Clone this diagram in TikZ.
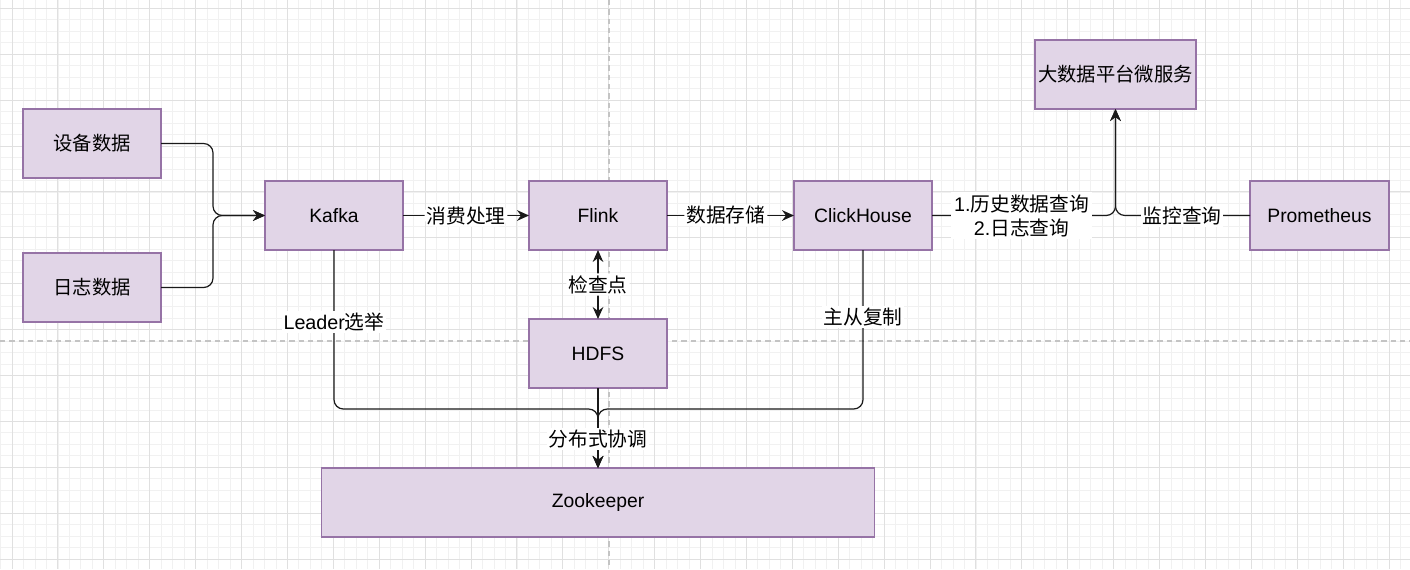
\documentclass[tikz,border=0pt]{standalone}
\usepackage{fontspec}
\setmainfont{Liberation Sans}
\newfontfamily\cjk{Noto Sans CJK SC}
\usetikzlibrary{arrows.meta}
\definecolor{boxfill}{HTML}{E1D5E7}
\definecolor{boxline}{HTML}{9673A6}
\definecolor{gminor}{HTML}{F1F1F1}
\definecolor{gmajor}{HTML}{E0E0E0}
\definecolor{gdash}{HTML}{C4C4C4}
\newcommand{\zh}[1]{{\cjk #1}}
\tikzset{
  box/.style={draw=boxline, fill=boxfill, line width=0.8pt, inner sep=0pt, outer sep=0pt,
    minimum width=103.5pt, minimum height=51.75pt, font=\fontsize{14.5}{17}\selectfont, text=black},
  tip/.tip={Stealth[length=9pt,width=8pt,inset=3pt]},
  conn/.style={line width=0.9pt, draw=black!90, rounded corners=7pt},
  arr/.style={conn, -tip},
  darr/.style={conn, tip-tip},
  lbl/.style={fill=white, inner sep=1.5pt, font=\fontsize{14.8}{18}\selectfont, text=black, align=center},
}
\begin{document}
\begin{tikzpicture}[x=0.75pt,y=-0.75pt]
\fill[white] (0,0) rectangle (1410,569);
\useasboundingbox (0,0) rectangle (1410,569);
% grid
\foreach \i in {0,...,122} \draw[gminor, line width=0.6pt] ({0.525+\i*11.475},0) -- ({0.525+\i*11.475},569);
\foreach \j in {-1,...,48} \draw[gminor, line width=0.6pt] (0,{8.3+\j*11.475}) -- (1410,{8.3+\j*11.475});
\foreach \i in {0,...,30} \draw[gmajor, line width=0.7pt] ({12+\i*45.9},0) -- ({12+\i*45.9},569);
\foreach \j in {0,...,12} \draw[gmajor, line width=0.7pt] (0,{8.3+\j*45.9}) -- (1410,{8.3+\j*45.9});
\draw[gdash, line width=0.8pt, dash pattern=on 4pt off 3pt] (609,0) -- (609,569);
\draw[gdash, line width=0.8pt, dash pattern=on 4pt off 3pt] (0,341) -- (1410,341);

% nodes
\node[box] (dev) at (92,143.5) {\zh{设备数据}};
\node[box] (log) at (92,287.5) {\zh{日志数据}};
\node[box] (kafka) at (334,215.5) {Kafka};
\node[box] (flink) at (598,215.5) {Flink};
\node[box] (ch) at (863,215.5) {ClickHouse};
\node[box, minimum width=104.25pt] (prom) at (1319.5,215.5) {Prometheus};
\node[box, minimum width=120.75pt] (svc) at (1115.5,74.5) {\zh{大数据平台微服务}};
\node[box] (hdfs) at (598,353.5) {HDFS};
\node[box, minimum width=414.75pt] (zk) at (598,502.5) {Zookeeper};

\coordinate (j1) at (213,215.5);
\coordinate (j2) at (1115.5,215.5);
\coordinate (j3) at (598,409);

% connectors
\draw[arr] (dev.east) -| (j1) -- (kafka.west);
\draw[arr] (log.east) -| (j1) -- (kafka.west);
\draw[arr] (kafka.east) -- (flink.west) node[lbl, midway] {\zh{消费处理}};
\draw[arr] (flink.east) -- (ch.west) node[lbl, midway, xshift=-3.5pt] {\zh{数据存储}};
\draw[arr] (ch.east) -- (j2) -- (svc.south);
\draw[arr] (prom.west) -- (j2) -- (svc.south);
\draw[darr] (flink.south) -- (hdfs.north) node[lbl, midway] {\zh{检查点}};
\draw[arr] (kafka.south) |- (j3) -- (zk.north);
\draw[arr] (ch.south) |- (j3) -- (zk.north);
\draw[arr] (hdfs.south) -- (zk.north);

% labels
\node[lbl, inner sep=2pt] (l1) at (1021.5,215.5) {1.\zh{历史数据查询}\\2.\zh{日志查询}};
\node[lbl] (l2) at (1182,215.5) {\zh{监控查询}};
\node[lbl] (l3) at (334,322) {Leader\zh{选举}};
\node[lbl] (l4) at (863,317) {\zh{主从复制}};
\node[lbl] (l5) at (598,439) {\zh{分布式协调}};
\end{tikzpicture}
\end{document}
